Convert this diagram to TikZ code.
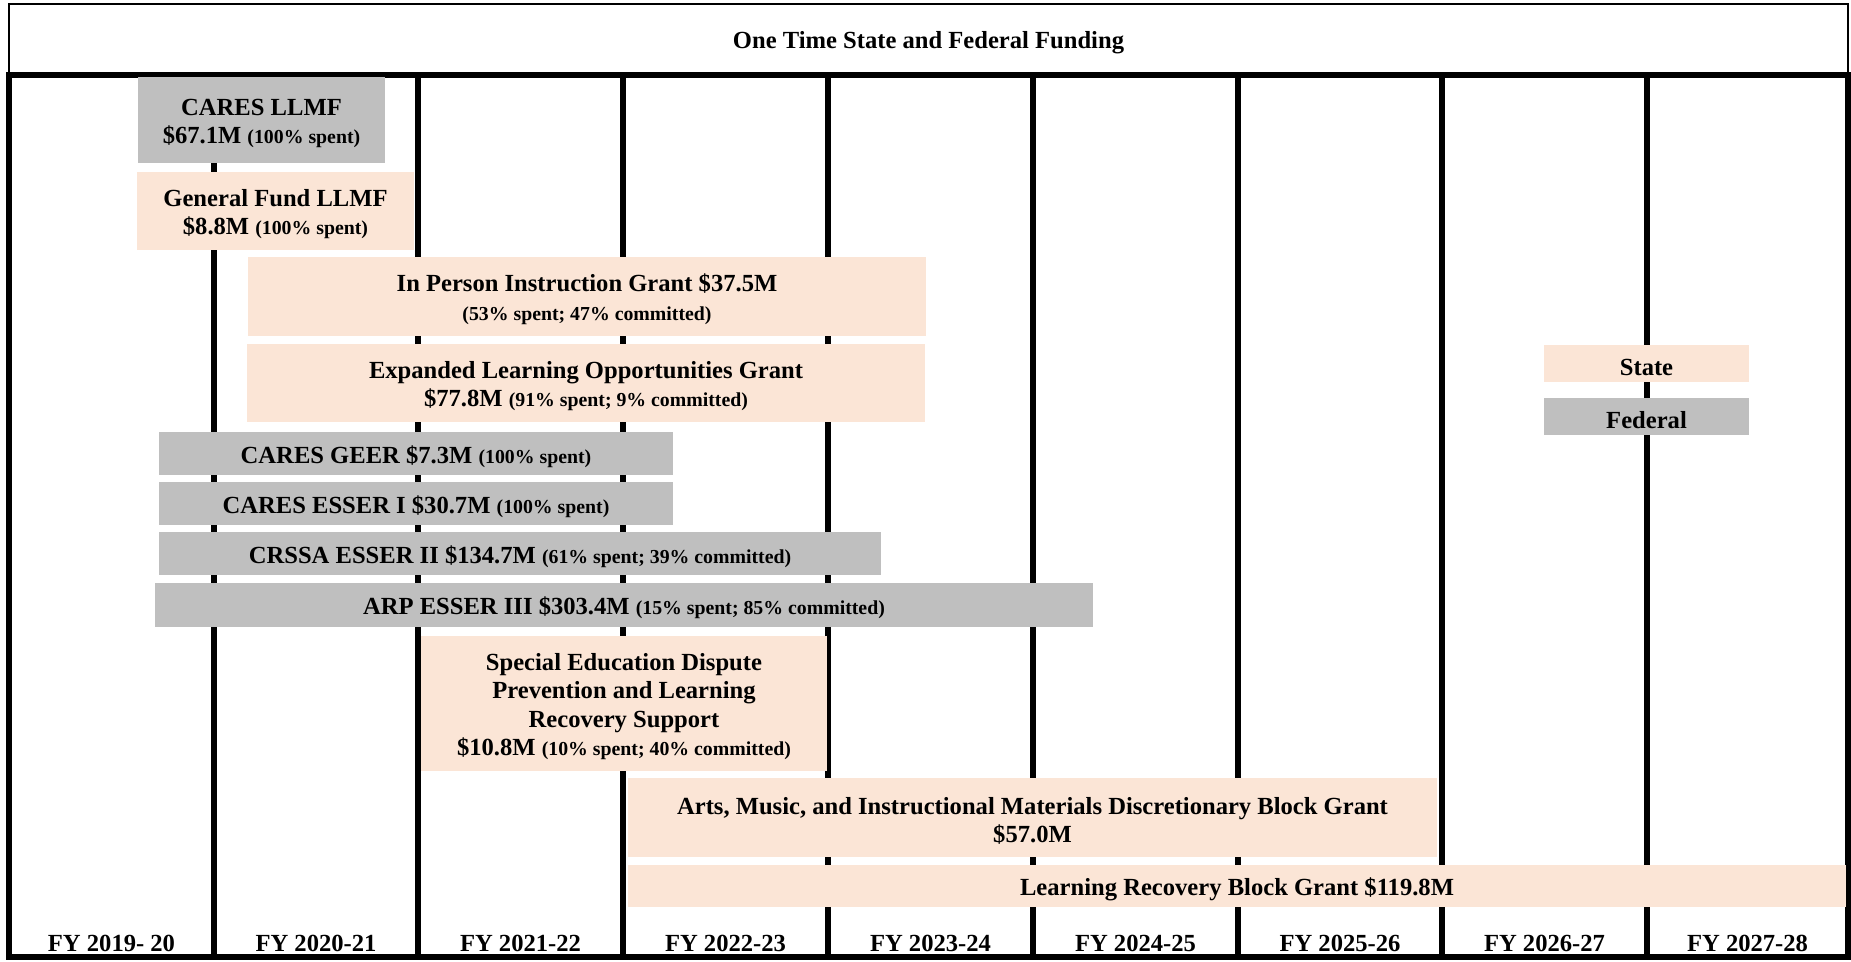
\documentclass[tikz,border=0pt]{standalone}
\usepackage{fontspec}
\setmainfont{Liberation Serif}

\definecolor{fedgray}{HTML}{BFBFBF}
\definecolor{statepeach}{HTML}{FBE5D6}
\newcommand{\barsize}{\fontsize{12.3pt}{14.2pt}\selectfont}
\newcommand{\notesize}{\fontsize{9.9pt}{11pt}\selectfont}
\newcommand{\spentnote}[1]{{\notesize #1}}
\newcommand{\barstrut}{\rule{0pt}{11.8pt}}

\tikzset{
  fundbar/.style={inner sep=0pt, outer sep=0pt, align=center, font=\bfseries\barsize},
  fedbar/.style={fundbar, fill=fedgray},
  statebar/.style={fundbar, fill=statepeach},
  yearlabel/.style={inner sep=0pt, font=\bfseries\barsize},
  gridline/.style={line width=3pt},
}

\begin{document}
\begin{tikzpicture}[x=0.5pt, y=-0.5pt]
  \useasboundingbox (0,0) rectangle (1851,962);
  % title row
  \draw[line width=1pt] (9,4) rectangle (1848,75);
  \node[yearlabel] (title) at (928.5,43) {One Time State and Federal Funding};
  % year columns
  \draw[gridline] (9,75) rectangle (1848,957);
  \draw[gridline] (214,75) -- (214,957);
  \draw[gridline] (418,75) -- (418,957);
  \draw[gridline] (623,75) -- (623,957);
  \draw[gridline] (828,75) -- (828,957);
  \draw[gridline] (1033,75) -- (1033,957);
  \draw[gridline] (1238,75) -- (1238,957);
  \draw[gridline] (1442,75) -- (1442,957);
  \draw[gridline] (1647,75) -- (1647,957);
  \draw
    (111.5,943) node[yearlabel] (fy20){FY 2019- 20}
    (316,943) node[yearlabel] (fy21){FY 2020-21}
    (520.5,943) node[yearlabel] (fy22){FY 2021-22}
    (725.5,943) node[yearlabel] (fy23){FY 2022-23}
    (930.5,943) node[yearlabel] (fy24){FY 2023-24}
    (1135.5,943) node[yearlabel] (fy25){FY 2024-25}
    (1340,943) node[yearlabel] (fy26){FY 2025-26}
    (1544.5,943) node[yearlabel] (fy27){FY 2026-27}
    (1747.5,943) node[yearlabel] (fy28){FY 2027-28};
  % funding bars
  \node[fedbar, minimum width=123.5pt, minimum height=43pt] (caresllmf) at (261.5,120)
    {\barstrut CARES LLMF\\\$67.1M \spentnote{(100\% spent)}};
  \node[statebar, minimum width=138.5pt, minimum height=39pt] (gfllmf) at (275.5,211)
    {\barstrut General Fund LLMF\\\$8.8M \spentnote{(100\% spent)}};
  \node[statebar, minimum width=339pt, minimum height=39.5pt] (inperson) at (587,296.5)
    {\barstrut In Person Instruction Grant \$37.5M\\\spentnote{(53\% spent; 47\% committed)}};
  \node[statebar, minimum width=339pt, minimum height=39pt] (elo) at (586,383)
    {\barstrut Expanded Learning Opportunities Grant\\\$77.8M \spentnote{(91\% spent; 9\% committed)}};
  \node[fedbar, minimum width=257pt, minimum height=21.5pt] (geer) at (416,453.5)
    {\barstrut CARES GEER \$7.3M \spentnote{(100\% spent)}};
  \node[fedbar, minimum width=257pt, minimum height=21.5pt] (esserone) at (416,503.5)
    {\barstrut CARES ESSER I \$30.7M \spentnote{(100\% spent)}};
  \node[fedbar, minimum width=361pt, minimum height=21.5pt] (essertwo) at (520,553.5)
    {\barstrut CRSSA ESSER II \$134.7M \spentnote{(61\% spent; 39\% committed)}};
  \node[fedbar, minimum width=469pt, minimum height=22pt] (esserthree) at (624,605)
    {\barstrut ARP ESSER III \$303.4M \spentnote{(15\% spent; 85\% committed)}};
  \node[statebar, minimum width=203pt, minimum height=67.5pt] (sped) at (624,703.5)
    {\barstrut Special Education Dispute\\Prevention and Learning\\Recovery Support\\\$10.8M \spentnote{(10\% spent; 40\% committed)}};
  \node[statebar, minimum width=404.5pt, minimum height=39.5pt] (arts) at (1032.5,817.5)
    {\barstrut Arts, Music, and Instructional Materials Discretionary Block Grant\\\$57.0M};
  \node[statebar, minimum width=609pt, minimum height=21pt] (lrbg) at (1237,886)
    {\barstrut Learning Recovery Block Grant \$119.8M};
  % legend
  \node[statebar, minimum width=102.5pt, minimum height=18.5pt] (statekey) at (1646.5,363.5) {\barstrut State};
  \node[fedbar, minimum width=102.5pt, minimum height=18.5pt] (fedkey) at (1646.5,416.5) {\barstrut Federal};
\end{tikzpicture}
\end{document}
